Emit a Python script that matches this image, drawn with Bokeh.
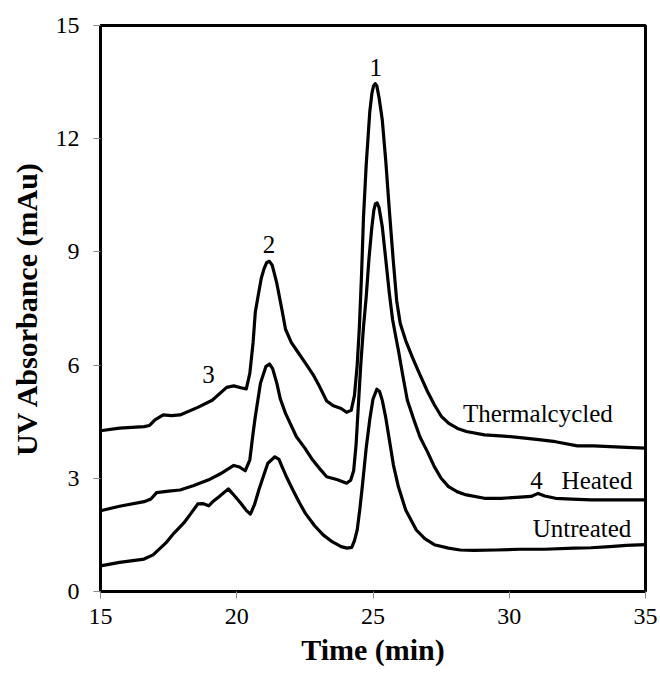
from bokeh.plotting import figure
from bokeh.models import ColumnDataSource, FixedTicker, Range1d
from bokeh.core.properties import value
from bokeh.embed import file_html
from bokeh.resources import INLINE

# ---- data ----
x_thermal = [15.0, 15.7, 16.6, 16.8, 17.0, 17.3, 17.6, 17.92, 18.57, 19.1, 19.63, 19.89, 20.15, 20.35,
             20.48, 20.6, 20.68, 20.8, 20.9, 21.0, 21.1, 21.2, 21.3, 21.47, 21.66, 21.79, 22.0,
             22.19, 22.52, 22.8, 23.04, 23.3, 23.55, 23.83, 24.03, 24.2, 24.32, 24.42, 24.5,
             24.58, 24.65, 24.75, 24.88, 24.96, 25.02, 25.08, 25.14, 25.22, 25.34, 25.47, 25.6,
             25.74, 25.87, 26.0, 26.2, 26.45, 26.72, 27.0, 27.25, 27.5, 27.77, 28.1, 28.43,
             29.09, 29.8, 30.4, 31.0, 31.7, 32.5, 33.1, 33.7, 34.3, 35.0]
y_thermal = [4.26, 4.33, 4.37, 4.4, 4.55, 4.68, 4.66, 4.68, 4.88, 5.07, 5.41, 5.45, 5.40, 5.37,
             5.78, 6.6, 7.4, 7.9, 8.3, 8.55, 8.72, 8.75, 8.65, 8.17, 7.46, 6.95, 6.6,
             6.40, 6.05, 5.75, 5.43, 5.05, 4.92, 4.85, 4.75, 4.8, 5.2, 6.0, 7.0,
             8.4, 9.9, 11.3, 12.7, 13.2, 13.4, 13.46, 13.4, 13.1, 12.5, 11.4, 10.1,
             8.8, 7.7, 7.1, 6.65, 6.2, 5.75, 5.3, 4.95, 4.65, 4.46, 4.32, 4.24,
             4.15, 4.12, 4.08, 4.03, 3.97, 3.86, 3.86, 3.84, 3.82, 3.80]

x_heated = [15.0, 15.7, 16.6, 16.85, 17.06, 17.5, 17.92, 18.4, 18.97, 19.4, 19.89, 20.1, 20.31,
            20.48, 20.6, 20.68, 20.87, 21.07, 21.2, 21.32, 21.47, 21.6, 21.79, 22.19, 22.5,
            22.78, 23.05, 23.3, 23.7, 24.03, 24.18, 24.29, 24.38, 24.46, 24.55, 24.65, 24.75,
            24.85, 24.95, 25.03, 25.09, 25.15, 25.22, 25.34, 25.47, 25.6, 25.72, 25.85, 25.93,
            26.1, 26.26, 26.5, 26.72, 27.0, 27.25, 27.5, 27.77, 28.1, 28.43, 29.09, 29.7, 30.4,
            30.8, 31.06, 31.3, 31.7, 32.3, 33.0, 34.0, 35.0]
y_heated = [2.14, 2.26, 2.38, 2.45, 2.62, 2.66, 2.69, 2.8, 2.96, 3.12, 3.34, 3.30, 3.20,
            3.49, 4.2, 4.63, 5.52, 5.96, 6.03, 5.9, 5.52, 5.1, 4.72, 4.10, 3.8,
            3.49, 3.25, 3.04, 2.96, 2.87, 2.95, 3.2, 3.9, 4.9, 6.0, 7.0, 7.8,
            8.8, 9.6, 10.1, 10.28, 10.3, 10.18, 9.67, 8.79, 7.9, 7.2, 6.7, 6.40,
            5.7, 5.07, 4.55, 4.10, 3.7, 3.31, 3.0, 2.78, 2.64, 2.56, 2.47, 2.47, 2.50,
            2.52, 2.60, 2.53, 2.47, 2.45, 2.43, 2.43, 2.43]

x_untreated = [15.0, 15.7, 16.6, 16.93, 17.39, 17.7, 18.05, 18.3, 18.57, 18.75, 18.97, 19.15,
               19.36, 19.69, 19.9, 20.15, 20.35, 20.5, 20.65, 20.81, 21.0, 21.14, 21.4, 21.55,
               21.66, 21.85, 22.06, 22.3, 22.52, 22.85, 23.17, 23.5, 23.83, 24.05, 24.22, 24.32,
               24.42, 24.52, 24.62, 24.75, 24.88, 25.0, 25.14, 25.24, 25.34, 25.47, 25.6, 25.75,
               25.93, 26.2, 26.59, 26.9, 27.25, 27.77, 28.2, 28.69, 29.5, 30.4, 31.3, 32.37,
               33.0, 33.69, 34.3, 35.0]
y_untreated = [0.68, 0.77, 0.86, 0.97, 1.28, 1.55, 1.81, 2.05, 2.32, 2.33, 2.27, 2.40,
               2.52, 2.72, 2.55, 2.34, 2.15, 2.05, 2.3, 2.69, 3.1, 3.40, 3.57, 3.5,
               3.31, 3.0, 2.69, 2.35, 2.07, 1.75, 1.50, 1.32, 1.19, 1.15, 1.17, 1.35,
               1.63, 2.2, 2.87, 3.8, 4.55, 5.1, 5.36, 5.3, 5.07, 4.6, 4.02, 3.35,
               2.78, 2.16, 1.63, 1.40, 1.24, 1.15, 1.10, 1.09, 1.10, 1.12, 1.12, 1.15,
               1.16, 1.19, 1.22, 1.24]

label_text = ["1", "2", "3", "Thermalcycled", "4", "Heated", "Untreated"]
label_x = [25.1, 21.18, 18.96, 31.05, 31.0, 33.22, 32.67]
label_y = [13.88, 9.19, 5.75, 4.72, 2.93, 2.93, 1.67]

x_ticks = [15, 20, 25, 30, 35]
y_ticks = [0, 3, 6, 9, 12, 15]

SERIF = "Liberation Serif"

p = figure(width=660, height=677, output_backend="svg", toolbar_location=None,
           x_range=Range1d(15, 35), y_range=Range1d(0, 15),
           min_border_left=100, min_border_right=15, min_border_top=25, min_border_bottom=86)

p.background_fill_color = "white"
p.border_fill_color = "white"
p.outline_line_color = "black"
p.outline_line_width = 3
p.xgrid.visible = False
p.ygrid.visible = False

for xs, ys in [(x_thermal, y_thermal), (x_heated, y_heated), (x_untreated, y_untreated)]:
    src = ColumnDataSource(dict(x=xs, y=ys))
    p.line("x", "y", source=src, line_color="black", line_width=3.2, line_join="round")

lsrc = ColumnDataSource(dict(x=label_x, y=label_y, t=label_text))
p.text("x", "y", text="t", source=lsrc, text_font=value(SERIF), text_font_size="25px",
       text_color="black", text_align="center", text_baseline="middle")

for ax, ticks in [(p.xaxis, x_ticks), (p.yaxis, y_ticks)]:
    ax.ticker = FixedTicker(ticks=ticks)
    ax.minor_tick_line_color = None
    ax.major_tick_in = 0
    ax.major_tick_out = 7
    ax.major_tick_line_color = "#888888"
    ax.axis_line_color = None
    ax.major_label_text_font = SERIF
    ax.major_label_text_font_size = "24px"
    ax.major_label_text_color = "black"
    ax.axis_label_text_font = SERIF
    ax.axis_label_text_font_size = "30px"
    ax.axis_label_text_font_style = "bold"
    ax.axis_label_text_color = "black"

p.xaxis.axis_label = "Time (min)"
p.yaxis.axis_label = "UV Absorbance (mAu)"
p.xaxis.major_label_standoff = 10
p.yaxis.major_label_standoff = 14
p.xaxis.axis_label_standoff = 6
p.yaxis.axis_label_standoff = 10

open("out.html", "w").write(file_html(p, INLINE))
